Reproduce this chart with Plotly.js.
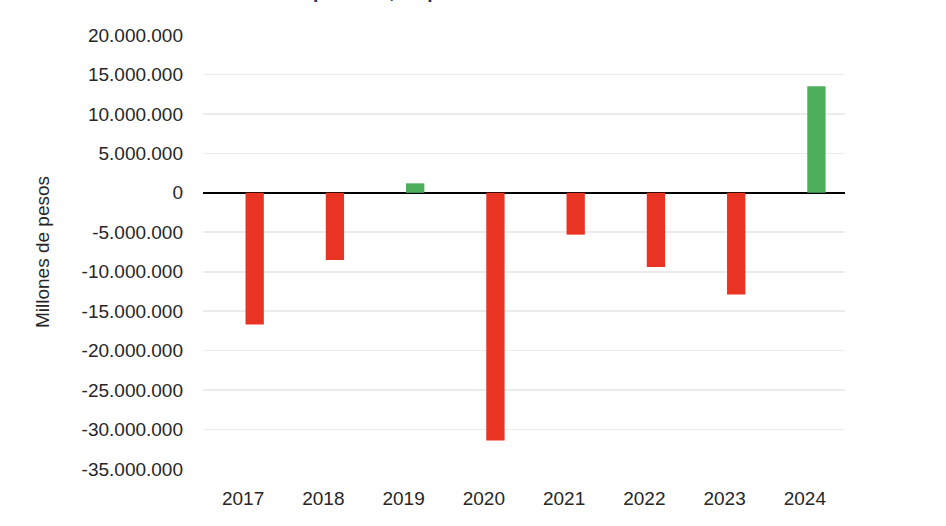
<!DOCTYPE html>
<html>
<head>
<meta charset="utf-8">
<script src="https://cdn.plot.ly/plotly-3.0.1.min.js"></script>
<style>
  html, body { margin: 0; padding: 0; background: #ffffff; }
  #chart { width: 946px; height: 526px; }
</style>
</head>
<body>
<div id="chart"></div>
<script>
// Data (millones de pesos)
const years = ['2017', '2018', '2019', '2020', '2021', '2022', '2023', '2024'];
const values = [-16700000, -8500000, 1200000, -31400000, -5300000, -9400000, -12900000, 13500000];
const yTickValues = [20000000, 15000000, 10000000, 5000000, 0, -5000000, -10000000, -15000000,
                     -20000000, -25000000, -30000000, -35000000];
const titleText = 'Resultado primario, en pesos';
const yTitleText = 'Millones de pesos';

function fmt(v) {
  const s = Math.abs(v).toString().replace(/\B(?=(\d{3})+(?!\d))/g, '.');
  return (v < 0 ? '-' : '') + s;
}
const yTickText = yTickValues.map(fmt);
const RED = '#E93423';
const GREEN = '#4DAE5B';
const barColors = values.map(v => (v >= 0 ? GREEN : RED));

const trace = {
  type: 'bar',
  x: years,
  y: values,
  width: 0.228,
  offset: 0.03,
  marker: { color: barColors, line: { width: 0 } },
  hoverinfo: 'x+y'
};

const layout = {
  width: 946,
  height: 526,
  paper_bgcolor: '#ffffff',
  plot_bgcolor: '#ffffff',
  margin: { l: 203, r: 101, t: 35, b: 57 },
  showlegend: false,
  font: { family: 'Liberation Sans, Arial, sans-serif', size: 19, color: '#262626' },
  title: {
    text: titleText,
    font: { family: 'Liberation Sans, Arial, sans-serif', size: 19, color: '#1F2F6B', weight: 'bold' },
    xref: 'container', yref: 'container',
    x: 216 / 946, xanchor: 'left',
    y: 1, yanchor: 'bottom',
    pad: { b: 2 }
  },
  xaxis: {
    type: 'category',
    showgrid: false,
    showline: false,
    zeroline: false,
    ticks: '',
    ticklabelstandoff: 16,
    tickfont: { size: 19, color: '#262626' }
  },
  yaxis: {
    range: [-35000000, 20000000],
    tickvals: yTickValues,
    ticktext: yTickText,
    showgrid: true,
    gridcolor: '#EBEBEB',
    gridwidth: 1.6,
    zeroline: true,
    zerolinecolor: '#000000',
    zerolinewidth: 2,
    showline: false,
    ticks: '',
    ticklabelstandoff: 19,
    tickfont: { size: 19, color: '#262626' },
    title: {
      text: yTitleText,
      standoff: 26,
      font: { family: 'Liberation Sans, Arial, sans-serif', size: 19, color: '#262626' }
    }
  }
};

Plotly.newPlot('chart', [trace], layout, { staticPlot: true, displayModeBar: false });
</script>
</body>
</html>
